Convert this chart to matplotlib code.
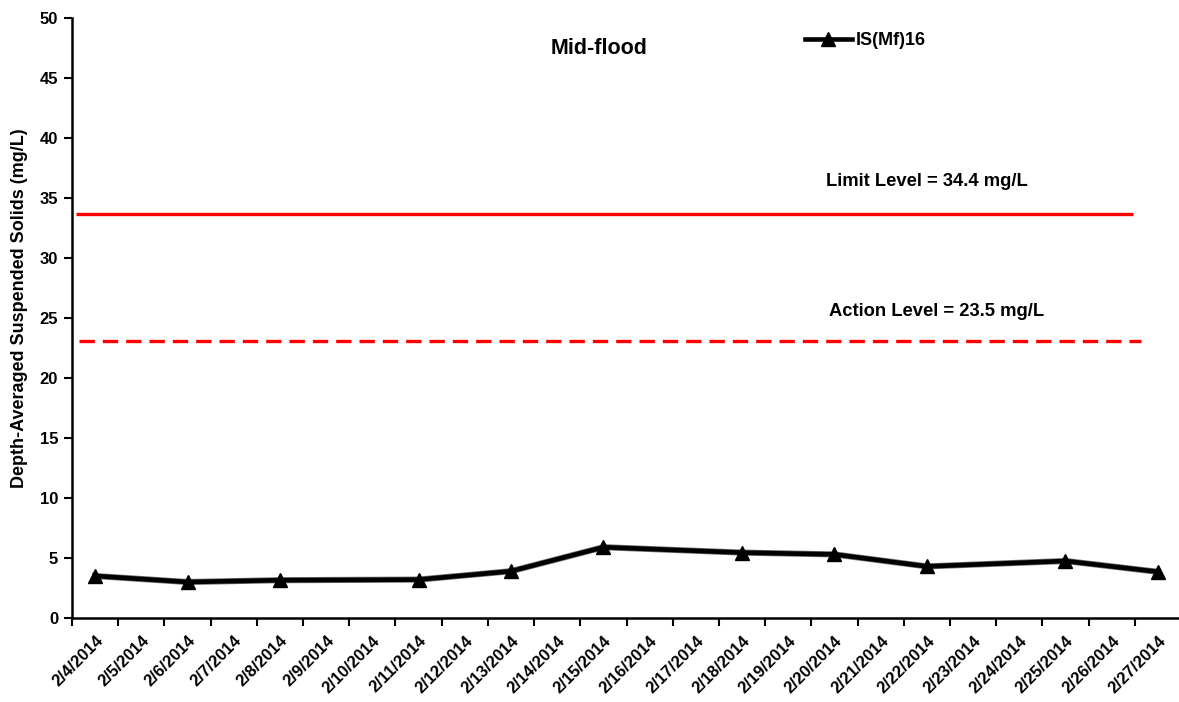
import matplotlib
matplotlib.use("Agg")
import matplotlib.pyplot as plt
import numpy as np

# ---- data ----
dates = ["2/4/2014", "2/5/2014", "2/6/2014", "2/7/2014", "2/8/2014", "2/9/2014",
         "2/10/2014", "2/11/2014", "2/12/2014", "2/13/2014", "2/14/2014", "2/15/2014",
         "2/16/2014", "2/17/2014", "2/18/2014", "2/19/2014", "2/20/2014", "2/21/2014",
         "2/22/2014", "2/23/2014", "2/24/2014", "2/25/2014", "2/26/2014", "2/27/2014"]
sample_dates = ["2/4/2014", "2/6/2014", "2/8/2014", "2/11/2014", "2/13/2014", "2/15/2014",
                "2/18/2014", "2/20/2014", "2/22/2014", "2/25/2014", "2/27/2014"]
series_values = [3.5, 3.0, 3.15, 3.2, 3.9, 5.9, 5.45, 5.3, 4.3, 4.75, 3.85]
series_name = "IS(Mf)16"
limit_level = 33.7     # as drawn
action_level = 23.1    # as drawn
limit_text = "Limit Level = 34.4 mg/L"
action_text = "Action Level = 23.5 mg/L"
title = "Mid-flood"
ylabel = "Depth-Averaged Suspended Solids (mg/L)"
yticks = list(range(0, 55, 5))

plt.rcParams['font.family'] = ['Liberation Sans', 'DejaVu Sans']
plt.rcParams['font.weight'] = 'bold'

W, H = 1179, 702
fig = plt.figure(figsize=(W / 100, H / 100), dpi=100)
left, right, bottom, top = 72, 1181, 618, 18
ax = fig.add_axes([left / W, 1 - bottom / H, (right - left) / W, (bottom - top) / H])

xpos = [dates.index(d) for d in sample_dates]

ax.axhline(limit_level, xmin=0.0033, xmax=0.9565, color='#ff0000', lw=2.4, solid_capstyle='butt')
ax.axhline(action_level, xmin=0.0063, xmax=0.9637, color='#ff0000', lw=2.4,
           ls=(0, (4.6, 2.4)), dash_capstyle='butt')

ax.plot(xpos, series_values, color='#707070', lw=4.4, zorder=3)
ax.plot(xpos, series_values, color='black', lw=3.3, marker='^', markersize=10,
        markerfacecolor='black', markeredgecolor='black', label=series_name, zorder=4)

ax.set_xlim(-0.5, len(dates) - 0.5)
ax.set_ylim(0, 50)
ax.set_yticks(yticks)
ax.set_yticklabels([str(v) for v in yticks], fontsize=12, fontweight='bold')
ax.set_xticks(range(len(dates)))
ax.set_xticklabels(dates, rotation=45, ha='right', va='top', rotation_mode='anchor',
                   fontsize=12, fontweight='bold')
ax.set_xticks(np.arange(-0.5, len(dates), 1.0), minor=True)
ax.tick_params(axis='x', which='major', length=0, pad=11)
ax.tick_params(axis='x', which='minor', length=6, width=1.5, direction='out')
ax.tick_params(axis='y', length=6, width=1.5, direction='out', pad=4)

for s in ['top', 'right']:
    ax.spines[s].set_visible(False)
for s in ['left', 'bottom']:
    ax.spines[s].set_linewidth(1.8)

fig.text(20 / W, 1 - 308 / H, ylabel, rotation=90, ha='center', va='center',
         fontsize=13, fontweight='bold')
fig.text(599 / W, 1 - 48 / H, title, ha='center', va='center', fontsize=15.5, fontweight='bold')
fig.text(927 / W, 1 - 181 / H, limit_text, ha='center', va='center', fontsize=13.2, fontweight='bold')
fig.text(937 / W, 1 - 311 / H, action_text, ha='center', va='center', fontsize=13.2, fontweight='bold')

leg = ax.legend(loc='upper left', bbox_to_anchor=(805 / W, 1 - 32 / H),
                bbox_transform=fig.transFigure, frameon=False, handlelength=2.6,
                handletextpad=0.2, borderpad=0, borderaxespad=0, numpoints=1,
                prop={'size': 13, 'weight': 'bold'})

fig.savefig("out.png", dpi=100)
